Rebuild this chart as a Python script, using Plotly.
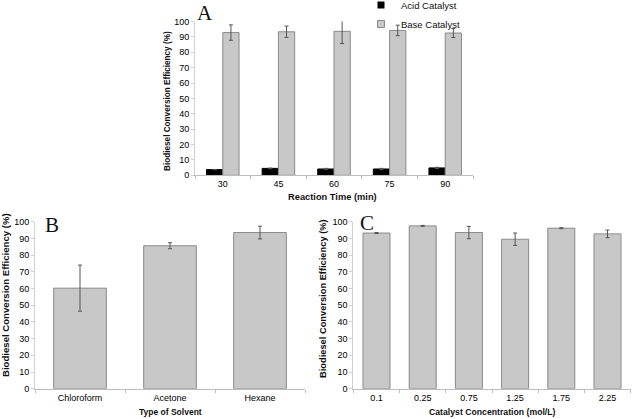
import plotly.graph_objects as go

# Panel A data
times = ["30", "45", "60", "75", "90"]
acid_vals = [3.7, 4.5, 4.1, 4.1, 4.8]
acid_err = [0.1, 0.2, 0.4, 0.4, 0.4]
base_vals = [92.8, 93.3, 93.6, 94.2, 92.5]
base_err = [5.0, 3.7, 7.9, 3.4, 2.9]

# Panel B data
solvents = ["Chloroform", "Acetone", "Hexane"]
solvent_vals = [60.2, 85.6, 93.5]
solvent_err = [13.8, 1.8, 3.8]

# Panel C data
concs = ["0.1", "0.25", "0.75", "1.25", "1.75", "2.25"]
conc_vals = [93.2, 97.5, 93.5, 89.5, 96.1, 92.7]
conc_err = [0.3, 0.3, 3.7, 3.7, 0.3, 2.3]

GRAY = "#c8c8c8"
OUT = "#8a8a8a"
ERR = "#555555"
W, H = 633, 419

def px_x(p):
    return p / W

def px_y(p):
    return 1 - p / H

fig = go.Figure()

err_style = dict(type="data", thickness=1, width=2, color=ERR)

fig.add_trace(go.Bar(x=times, y=acid_vals, name="Acid Catalyst",
                     marker=dict(color="#000000", line=dict(color="#000000", width=1)),
                     error_y=dict(array=acid_err, **err_style),
                     xaxis="x", yaxis="y", showlegend=False))
fig.add_trace(go.Bar(x=times, y=base_vals, name="Base Catalyst",
                     marker=dict(color=GRAY, line=dict(color=OUT, width=1)),
                     error_y=dict(array=base_err, **err_style),
                     xaxis="x", yaxis="y", showlegend=False))
# legend entries (small square swatches)
fig.add_trace(go.Scatter(x=[None], y=[None], mode="markers", name="Acid Catalyst",
                         marker=dict(symbol="square", size=7, color="#000000"),
                         xaxis="x", yaxis="y"))
fig.add_trace(go.Scatter(x=[None], y=[None], mode="markers", name="Base Catalyst",
                         marker=dict(symbol="square", size=7, color=GRAY,
                                     line=dict(color=OUT, width=1)),
                         xaxis="x", yaxis="y"))

fig.add_trace(go.Bar(x=solvents, y=solvent_vals, showlegend=False,
                     marker=dict(color=GRAY, line=dict(color=OUT, width=1)),
                     error_y=dict(array=solvent_err, **err_style),
                     xaxis="x2", yaxis="y2"))
fig.add_trace(go.Bar(x=concs, y=conc_vals, showlegend=False,
                     marker=dict(color=GRAY, line=dict(color=OUT, width=1)),
                     error_y=dict(array=conc_err, **err_style),
                     xaxis="x3", yaxis="y3"))

tickfont = dict(family="Liberation Sans, Arial, sans-serif", size=9, color="#000000")
axis_common_x = dict(type="category", showline=True, linecolor="#bdbdbd", linewidth=1,
                     ticks="outside", ticklen=3, tickcolor="#bdbdbd", tickson="boundaries",
                     showgrid=False, zeroline=False, tickfont=tickfont, fixedrange=True,
                     automargin=False)
axis_common_y = dict(range=[0, 100], dtick=10, showline=True, linecolor="#d0d0d0", linewidth=1,
                     ticks="outside", ticklen=3, tickcolor="#d0d0d0",
                     showgrid=False, zeroline=False, tickfont=tickfont, fixedrange=True,
                     automargin=False)

fig.update_layout(
    width=W, height=H, autosize=False,
    margin=dict(l=0, r=0, t=0, b=0, autoexpand=False),
    paper_bgcolor="white", plot_bgcolor="white",
    barmode="group", bargap=0.415, bargroupgap=0,
    xaxis=dict(domain=[px_x(195), px_x(473)], anchor="y", **axis_common_x),
    yaxis=dict(domain=[px_y(175.3), px_y(21.5)], anchor="x", **axis_common_y),
    xaxis2=dict(domain=[px_x(35), px_x(305)], anchor="y2", **axis_common_x),
    yaxis2=dict(domain=[px_y(388.7), px_y(221.7)], anchor="x2", **axis_common_y),
    xaxis3=dict(domain=[px_x(353.4), px_x(630.6)], anchor="y3", **axis_common_x),
    yaxis3=dict(domain=[px_y(388.7), px_y(221.7)], anchor="x3", **axis_common_y),
    legend=dict(x=px_x(361), y=px_y(-9.5), xanchor="left", yanchor="top",
                font=dict(family="Liberation Sans, Arial, sans-serif", size=9.5, color="#111111"),
                bgcolor="rgba(0,0,0,0)", tracegroupgap=0, itemwidth=30),
    showlegend=True,
)

title_font = dict(family="Liberation Sans, Arial, sans-serif", size=8.5, color="#111111")
letter_font = dict(family="Liberation Serif, Times New Roman, serif", size=21, color="#111111")

annotations = [
    # y titles
    dict(text="<b>Biodiesel Conversion Efficiency (%)</b>", x=px_x(167), y=px_y(101),
         textangle=-90, font=dict(title_font, size=8.2)),
    dict(text="<b>Biodiesel Conversion Efficiency (%)</b>", x=px_x(5), y=px_y(295),
         textangle=-90, font=dict(title_font, size=9.6)),
    dict(text="<b>Biodiesel Conversion Efficiency (%)</b>", x=px_x(323), y=px_y(299),
         textangle=-90, font=dict(title_font, size=9.3)),
    # x titles
    dict(text="<b>Reaction Time (min)</b>", x=px_x(332), y=px_y(197), font=dict(title_font, size=9.3)),
    dict(text="<b>Type of Solvent</b>", x=px_x(170), y=px_y(411.5), font=title_font),
    dict(text="<b>Catalyst Concentration (mol/L)</b>", x=px_x(492), y=px_y(411.5), font=dict(title_font, size=8.7)),
    # panel letters
    dict(text="A", x=px_x(205), y=px_y(13), font=letter_font),
    dict(text="B", x=px_x(52), y=px_y(225), font=letter_font),
    dict(text="C", x=px_x(367), y=px_y(223), font=letter_font),
]
for a in annotations:
    a.update(xref="paper", yref="paper", showarrow=False, xanchor="center", yanchor="middle")
fig.update_layout(annotations=annotations)

fig.write_html("out.html",
               config={"displayModeBar": False, "staticPlot": True},
               post_script="document.body.style.margin='0';document.body.style.padding='0';"
                           "document.body.style.overflow='hidden';")
